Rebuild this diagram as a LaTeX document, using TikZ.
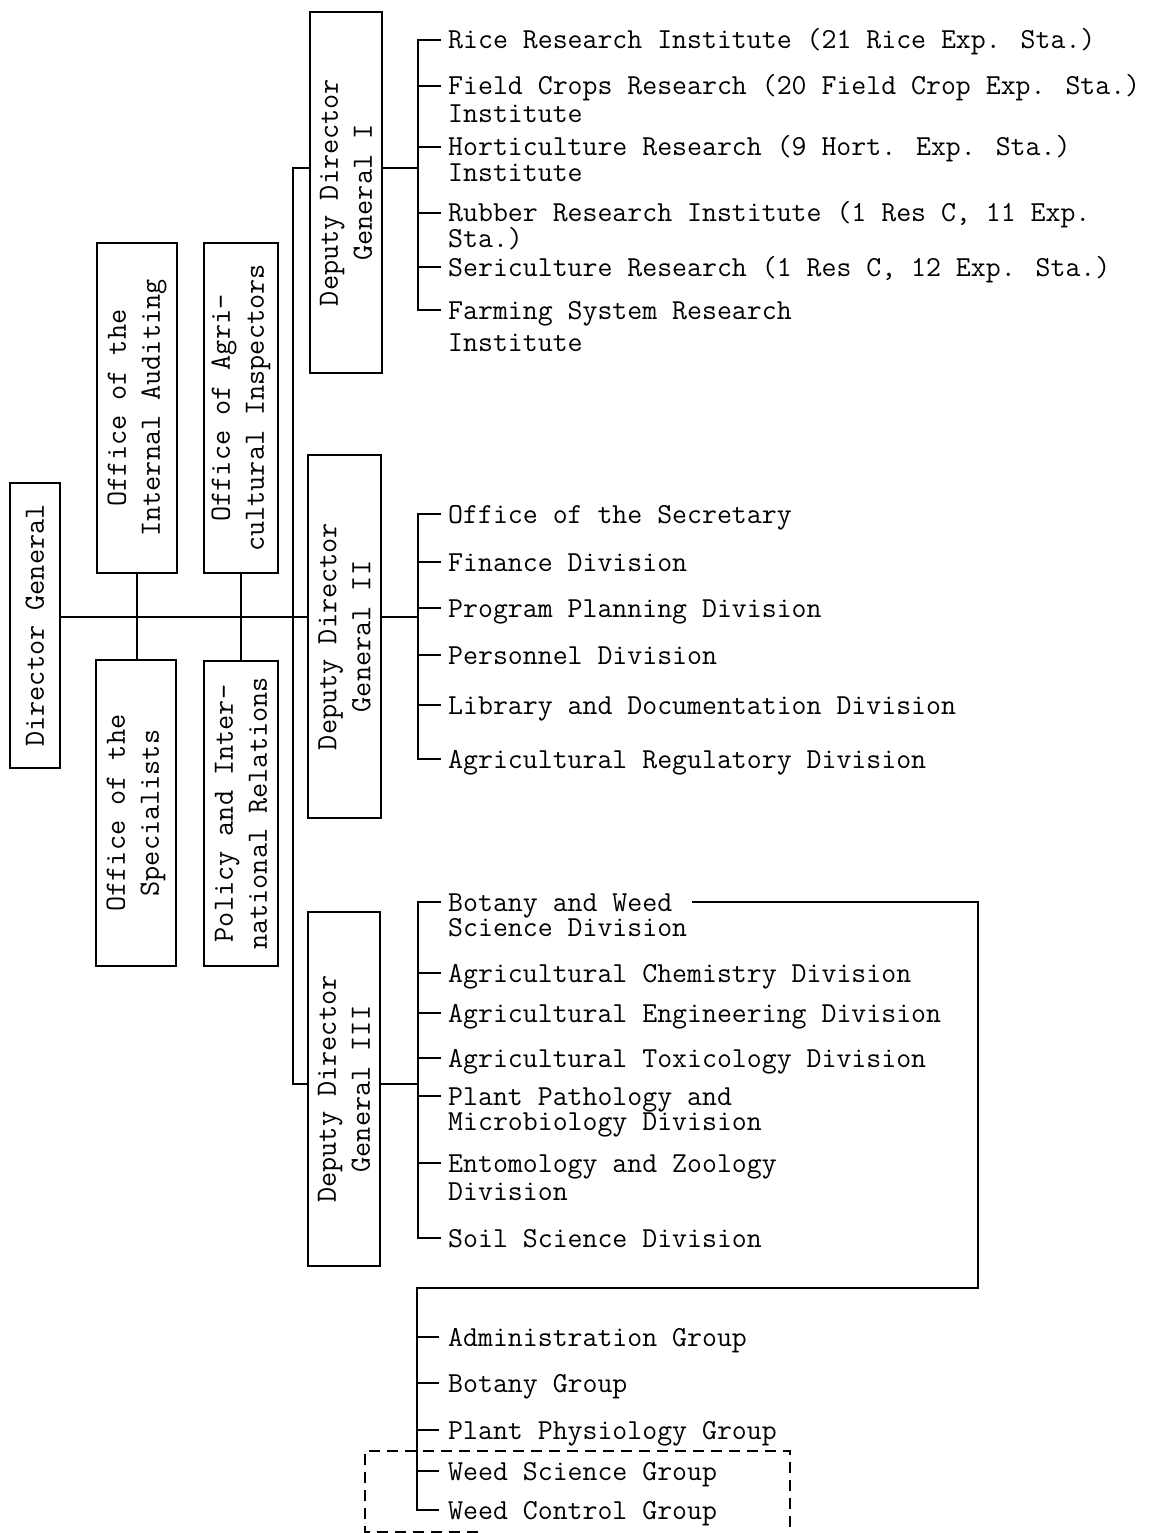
\documentclass[tikz,border=0pt]{standalone}
\usetikzlibrary{calc}
\tikzset{
  box/.style={draw, line width=2.4pt, rotate=90, align=center, inner sep=0pt,
    font=\ttfamily\fontsize{29.4}{34}\selectfont},
  item/.style={inner sep=0pt, anchor=west, text height=18pt, text depth=0pt,
    font=\ttfamily\fontsize{29}{30}\selectfont},
  conn/.style={line width=1.6pt},
  dashframe/.style={line width=1.6pt, dash pattern=on 11pt off 7pt},
}
\begin{document}
\begin{tikzpicture}[x=1pt,y=-1pt]
\useasboundingbox (0,0) rectangle (1149,1533);
% boxes
\node[box, minimum width=285pt, minimum height=50pt] (dg) at (35,625.5) {Director General};
\node[box, minimum width=330pt, minimum height=80pt] (ia) at (137,408) {Office of the\\Internal Auditing};
\node[box, minimum width=330pt, minimum height=74pt] (ai) at (241,408) {Office of Agri-\\cultural Inspectors};
\node[box, minimum width=306pt, minimum height=80pt] (os) at (136,813) {Office of the\\Specialists};
\node[box, minimum width=305pt, minimum height=74pt] (pir) at (241,813.5) {Policy and Inter-\\national Relations};
\node[box, minimum width=361pt, minimum height=72pt] (d1) at (346,192.5) {Deputy Director\\General I};
\node[box, minimum width=363pt, minimum height=73pt] (d2) at (344.5,636.5) {Deputy Director\\General II};
\node[box, minimum width=354pt, minimum height=72pt] (d3) at (344,1089) {Deputy Director\\General III};
% junctions
\coordinate (jm) at (293,617);
\coordinate (j1) at (293,168);
\coordinate (j3) at (293,1084);
\coordinate (b1) at (418,168);
\coordinate (b2) at (418,617);
\coordinate (b3) at (418,1084);
\coordinate (lx) at (978,0);
\coordinate (b4) at (417,1288);
% main connectors
\draw[conn] (dg.south |- jm) -- (d2.north |- jm);
\draw[conn] (ia.west) -- (ia.west |- os.east);
\draw[conn] (ai.west) -- (ai.west |- pir.east);
\draw[conn] (d1.north |- j1) -- (j1) -- (j3) -- (d3.north |- j3);
\draw[conn] (d1.south |- j1) -- (b1);
\draw[conn] (d2.south |- b2) -- (b2);
\draw[conn] (d3.south |- b3) -- (b3);
% group I
\node[item] (rice) at (448,40) {Rice Research Institute (21 Rice Exp. Sta.)};
\node[item] (field) at (448,86) {Field Crops Research (20 Field Crop Exp. Sta.)};
\node[item] (field2) at (448,114) {Institute};
\node[item] (hort) at (448,147) {Horticulture Research (9 Hort. Exp. Sta.)};
\node[item] (hort2) at (448,173) {Institute};
\node[item] (rub) at (448,213) {Rubber Research Institute (1 Res C, 11 Exp.};
\node[item] (rub2) at (448,238) {Sta.)};
\node[item] (seri) at (448,267) {Sericulture Research (1 Res C, 12 Exp. Sta.)};
\node[item] (farm) at (448,310) {Farming System Research};
\node[item] (farm2) at (448,342) {Institute};
\draw[conn] ([xshift=-7pt]rice.west) -- (b1 |- rice.west) -- (b1 |- farm.west) -- ([xshift=-7pt]farm.west);
\foreach \n in {field,hort,rub,seri}
  \draw[conn] (b1 |- \n.west) -- ([xshift=-7pt]\n.west);
% group II
\node[item] (sec) at (448,514) {Office of the Secretary};
\node[item] (fin) at (448,562) {Finance Division};
\node[item] (prog) at (448,608) {Program Planning Division};
\node[item] (pers) at (448,655) {Personnel Division};
\node[item] (lib) at (448,705) {Library and Documentation Division};
\node[item] (areg) at (448,759) {Agricultural Regulatory Division};
\draw[conn] ([xshift=-7pt]sec.west) -- (b2 |- sec.west) -- (b2 |- areg.west) -- ([xshift=-7pt]areg.west);
\foreach \n in {fin,prog,pers,lib}
  \draw[conn] (b2 |- \n.west) -- ([xshift=-7pt]\n.west);
% group III
\node[item] (bw) at (448,902) {Botany and Weed};
\node[item] (bw2) at (448,927) {Science Division};
\node[item] (chem) at (448,973) {Agricultural Chemistry Division};
\node[item] (eng) at (448,1013) {Agricultural Engineering Division};
\node[item] (tox) at (448,1058) {Agricultural Toxicology Division};
\node[item] (pp) at (448,1096) {Plant Pathology and};
\node[item] (pp2) at (448,1121) {Microbiology Division};
\node[item] (ento) at (448,1163) {Entomology and Zoology};
\node[item] (ento2) at (448,1191) {Division};
\node[item] (soil) at (448,1238) {Soil Science Division};
\draw[conn] ([xshift=-7pt]bw.west) -- (b3 |- bw.west) -- (b3 |- soil.west) -- ([xshift=-7pt]soil.west);
\foreach \n in {chem,eng,tox,pp,ento}
  \draw[conn] (b3 |- \n.west) -- ([xshift=-7pt]\n.west);
% groups under Botany and Weed Science Division
\node[item] (adm) at (448,1337) {Administration Group};
\node[item] (bot) at (448,1383) {Botany Group};
\node[item] (phys) at (448,1430) {Plant Physiology Group};
\node[item] (wsci) at (448,1471) {Weed Science Group};
\node[item] (wctl) at (448,1510) {Weed Control Group};
\draw[conn] ([xshift=20pt]bw.east) -- (lx |- bw.east) -- (lx |- b4) -- (b4) -- (b4 |- wctl.west) -- ([xshift=-9pt]wctl.west);
\foreach \n in {adm,bot,phys,wsci}
  \draw[conn] (b4 |- \n.west) -- ([xshift=-9pt]\n.west);
% dashed frame
\coordinate (f1) at (478,1532);
\coordinate (f2) at (365,1532);
\coordinate (f3) at (365,1451);
\coordinate (f4) at (790,1451);
\coordinate (f5) at (790,1533);
\draw[dashframe] (f1) -- (f2) -- (f3) -- (f4) -- (f5);
\end{tikzpicture}
\end{document}
